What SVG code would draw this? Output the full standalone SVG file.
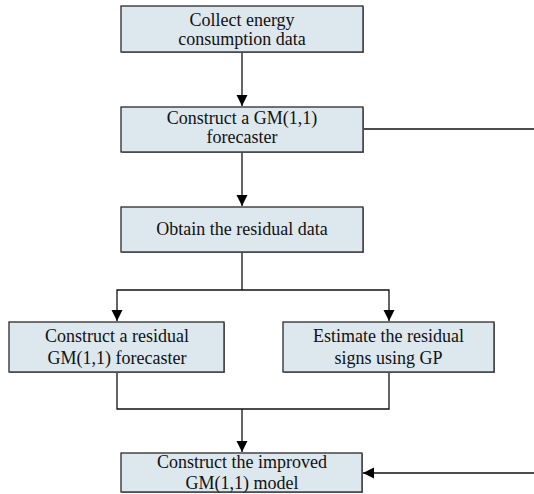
<svg xmlns="http://www.w3.org/2000/svg" width="534" height="494" viewBox="0 0 534 494">
<style>
.box{fill:#dde7ee;stroke:#2a2a2a;stroke-width:1.3}
.sh{fill:#8a8a8a}
.t{font-family:"Liberation Serif","Times New Roman",serif;font-size:18px;fill:#111;text-anchor:middle}
.c{fill:none;stroke:#111;stroke-width:1.3}
</style>
<defs>
<marker id="ah" markerUnits="userSpaceOnUse" markerWidth="14" markerHeight="14" viewBox="0 0 14 14" refX="11" refY="7" orient="auto-start-reverse">
<path d="M0,1.5 L11,7 L0,12.5 Z" fill="#000"/>
</marker>
</defs>
<g id="connectors">
<line class="c" x1="242" y1="52" x2="242" y2="106" marker-end="url(#ah)"/>
<line class="c" x1="363" y1="129" x2="534" y2="129"/>
<line class="c" x1="242" y1="152" x2="242" y2="206" marker-end="url(#ah)"/>
<polyline class="c" points="242,252 242,290"/>
<polyline class="c" points="117,321 117,290 389,290 389,321" marker-start="url(#ah)" marker-end="url(#ah)"/>
<polyline class="c" points="117,372 117,409 389,409 389,372"/>
<line class="c" x1="242" y1="409" x2="242" y2="452" marker-end="url(#ah)"/>
<line class="c" x1="534" y1="473" x2="363" y2="473" marker-end="url(#ah)"/>
</g>
<g id="n1">
<rect class="sh" x="122" y="7" width="242" height="46"/>
<rect class="box" x="121" y="6" width="242" height="46"/>
<text class="t" x="242" y="26">Collect energy</text>
<text class="t" x="242" y="45">consumption data</text>
</g>
<g id="n2">
<rect class="sh" x="122" y="108" width="242" height="45"/>
<rect class="box" x="121" y="107" width="242" height="45"/>
<text class="t" x="242" y="124">Construct a GM(1,1)</text>
<text class="t" x="242" y="143">forecaster</text>
</g>
<g id="n3">
<rect class="sh" x="122" y="208" width="242" height="45"/>
<rect class="box" x="121" y="207" width="242" height="45"/>
<text class="t" x="242" y="235">Obtain the residual data</text>
</g>
<g id="n4">
<rect class="sh" x="10" y="323" width="215" height="50"/>
<rect class="box" x="9" y="322" width="215" height="50"/>
<text class="t" x="117" y="342">Construct a residual</text>
<text class="t" x="117" y="364">GM(1,1) forecaster</text>
</g>
<g id="n5">
<rect class="sh" x="284" y="323" width="211" height="50"/>
<rect class="box" x="283" y="322" width="211" height="50"/>
<text class="t" x="388.5" y="342">Estimate the residual</text>
<text class="t" x="388.5" y="364">signs using GP</text>
</g>
<g id="n6">
<rect class="sh" x="122" y="454" width="241" height="39"/>
<rect class="box" x="121" y="453" width="241" height="39"/>
<text class="t" x="242" y="468">Construct the improved</text>
<text class="t" x="242" y="489">GM(1,1) model</text>
</g>
</svg>
